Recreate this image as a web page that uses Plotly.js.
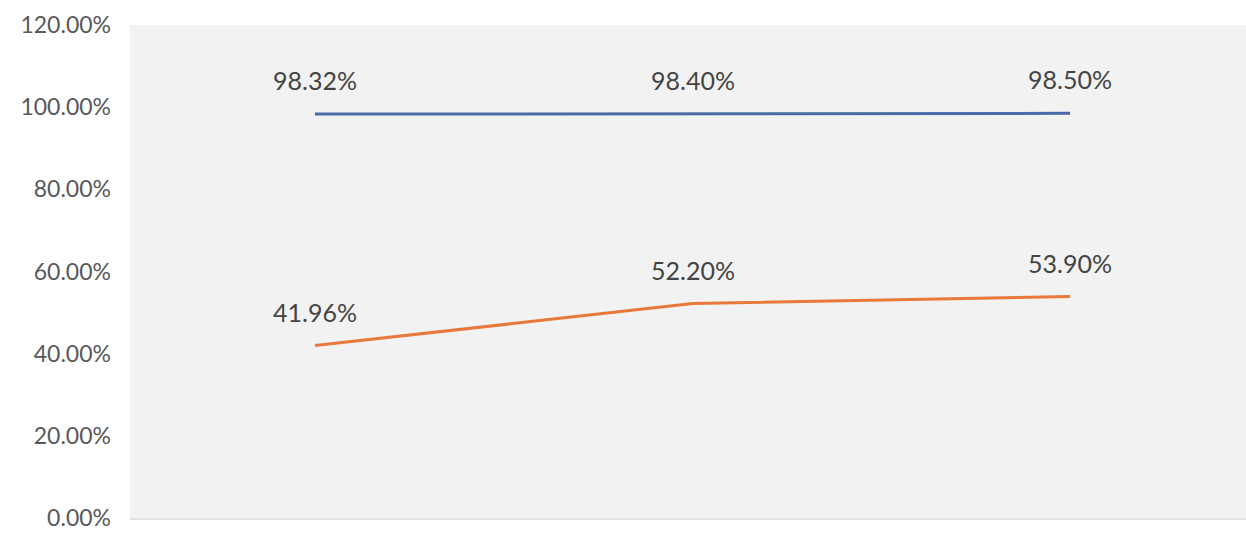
<!DOCTYPE html>
<html>
<head>
<meta charset="utf-8">
<script src="https://cdn.plot.ly/plotly-3.0.1.min.js"></script>
<style>html,body{margin:0;padding:0;background:#fff;}#chart{width:1246px;height:546px;}</style>
</head>
<body>
<div id="chart"></div>
<script>
const categories = ["2016", "2017", "2018"];
const seriesA = [98.32, 98.40, 98.50];
const seriesB = [41.96, 52.20, 53.90];
const yTicks = [0, 20, 40, 60, 80, 100, 120];
const yTickLabels = ["0.00%", "20.00%", "40.00%", "60.00%", "80.00%", "100.00%", "120.00%"];

const fmt = v => v.toFixed(2) + "%";
const labelFont = {family: "Lato, 'Open Sans', sans-serif", size: 25, color: "#444444"};
const traces = [
  {x: categories, y: seriesA, type: "scatter", mode: "lines",
   line: {color: "#4a6aa8", width: 3}, hoverinfo: "skip"},
  {x: categories, y: seriesB, type: "scatter", mode: "lines",
   line: {color: "#e8793a", width: 3}, hoverinfo: "skip"}
];
const annotations = [];
[seriesA, seriesB].forEach(function (s) {
  s.forEach(function (v, i) {
    annotations.push({
      x: i, y: v, xref: "x", yref: "y", text: fmt(v), showarrow: false,
      yshift: 34, font: labelFont
    });
  });
});

const layout = {
  width: 1246, height: 546,
  margin: {l: 130, r: 0, t: 25, b: 28},
  paper_bgcolor: "#ffffff", plot_bgcolor: "#f2f2f2",
  showlegend: false,
  xaxis: {type: "category", range: [-0.49, 2.466], showgrid: false, zeroline: false,
    showline: true, linecolor: "#e2e2e2", linewidth: 2, ticks: "", ticklabelstandoff: 20,
    tickfont: {family: "Lato, sans-serif", size: 23, color: "#595959"}},
  yaxis: {range: [0, 120], tickvals: yTicks, ticktext: yTickLabels, showgrid: false, zeroline: false,
    showline: false, ticks: "", ticklabelstandoff: 18,
    tickfont: {family: "Lato, 'Open Sans', sans-serif", size: 23, color: "#595959"}},
  annotations: annotations
};
Plotly.newPlot("chart", traces, layout, {displayModeBar: false, staticPlot: true});
</script>
</body>
</html>
